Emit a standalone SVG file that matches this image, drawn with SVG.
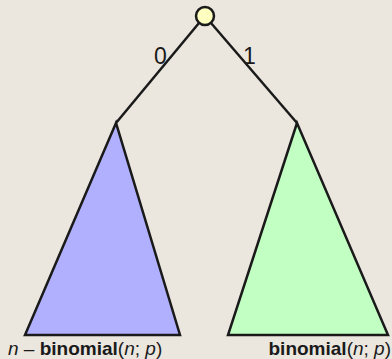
<svg xmlns="http://www.w3.org/2000/svg" width="392" height="359" viewBox="0 0 392 359">
<style>
.edge{stroke:#1a1a1a;stroke-width:2.5;fill:none}
.tri{stroke:#1a1a1a;stroke-width:2.5;stroke-linejoin:miter}
text{font-family:"Liberation Sans",Arial,sans-serif;font-size:19px;fill:#1a1a1a}
.lbl{font-size:23px}
.b{font-weight:bold}
.i{font-style:italic}
</style>
<rect width="392" height="359" fill="#ebe7df"/>
<g id="connectors">
<line class="edge" x1="199" y1="23" x2="116" y2="123"/>
<line class="edge" x1="211" y1="23" x2="297" y2="123"/>
<text class="lbl" x="154" y="64">0</text>
<text class="lbl" x="243" y="64">1</text>
</g>
<g id="left">
<polygon class="tri" points="116,123 25,335 180,335" fill="#b0b0ff"/>
<text x="8" y="355"><tspan class="i">n</tspan> – <tspan class="b">binomial</tspan>(<tspan class="i">n</tspan>; <tspan class="i">p</tspan>)</text>
</g>
<g id="right">
<polygon class="tri" points="297,123 228,335 388,335" fill="#c2ffc2"/>
<text x="391" y="355" text-anchor="end"><tspan class="b">binomial</tspan>(<tspan class="i">n</tspan>; <tspan class="i">p</tspan>)</text>
</g>
<g id="root">
<circle cx="205" cy="16" r="9" fill="#ffffc0" stroke="#1a1a1a" stroke-width="2.5"/>
</g>
</svg>
